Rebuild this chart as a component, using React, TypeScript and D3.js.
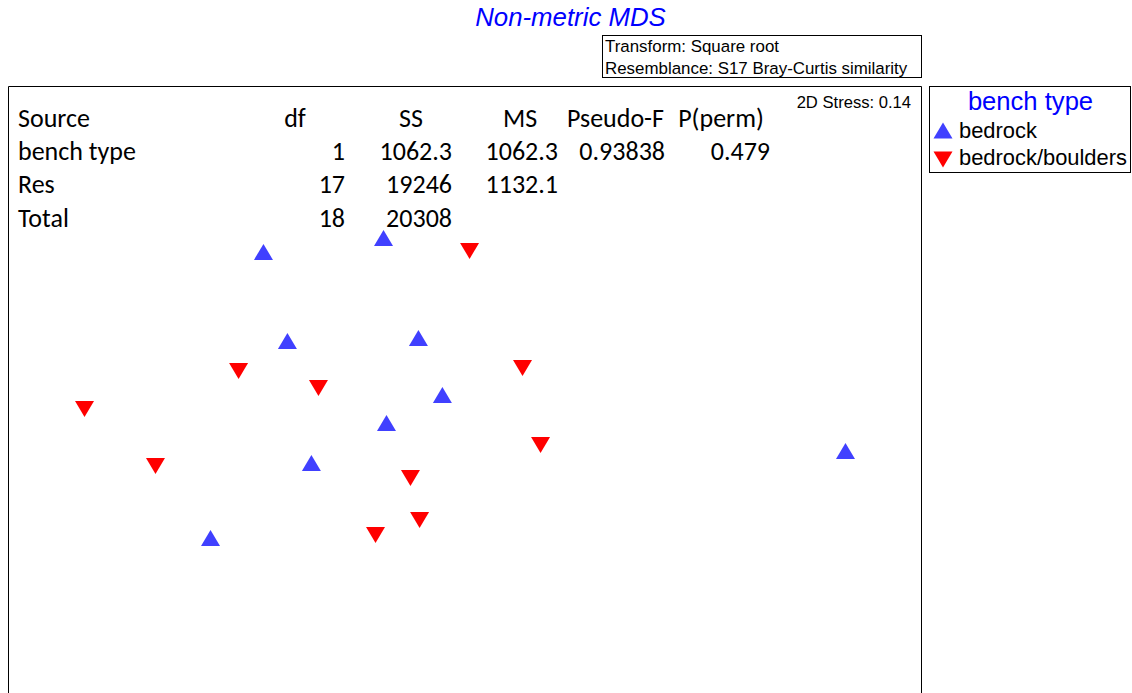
import React from "react";
import * as d3 from "d3";

const W = 1132;
const H = 693;

// nMDS coordinates (arbitrary units)
const bedrockX = [-0.883, -0.357, -0.778, -0.204, -0.099, -0.344, -0.673, -1.115, 1.667];
const bedrockY = [0.68, 0.749, 0.24, 0.255, -0.027, -0.166, -0.363, -0.734, -0.304];
const bouldersX = [0.02, -0.992, -0.642, 0.252, -1.667, -1.356, 0.331, -0.239, -0.199, -0.392];
const bouldersY = [0.685, 0.091, 0.007, 0.106, -0.096, -0.378, -0.274, -0.437, -0.645, -0.719];

const groups = ["bedrock", "bedrock/boulders"];
const groupColors = ["#4040ff", "#ff0000"];

const tableHeader = ["Source", "df", "SS", "MS", "Pseudo-F", "P(perm)"];
const tableSources = ["bench type", "Res", "Total"];
const tableDf = ["1", "17", "18"];
const tableSS = ["1062.3", "19246", "20308"];
const tableMS = ["1062.3", "1132.1", ""];
const tablePseudoF = ["0.93838", "", ""];
const tablePperm = ["0.479", "", ""];

const stressText = "2D Stress: 0.14";
const infoLines = ["Transform: Square root", "Resemblance: S17 Bray-Curtis similarity"];

const frame = { x0: 8.5, y0: 86.5, x1: 921.5 };

const xScale = d3.scaleLinear().domain([-2, 2]).range([frame.x0, frame.x1]);
const yScale = d3.scaleLinear().domain([1.5, -1.5]).range([86, 693]);

function tri(cx: number, cy: number, up: boolean, w = 19, h = 16) {
  const p = d3.path();
  if (up) {
    p.moveTo(cx, cy - h / 2);
    p.lineTo(cx + w / 2, cy + h / 2);
    p.lineTo(cx - w / 2, cy + h / 2);
  } else {
    p.moveTo(cx, cy + h / 2);
    p.lineTo(cx + w / 2, cy - h / 2);
    p.lineTo(cx - w / 2, cy - h / 2);
  }
  p.closePath();
  return p.toString();
}

export default function App() {
  const arial = "Arial, 'Liberation Sans', sans-serif";
  const calibri = "Carlito, Calibri, Lato, sans-serif";
  const rowY = [126.5, 159.5, 193, 226.5];
  const fs = 26;
  const bedrock = bedrockX.map((x, i) => ({ x, y: bedrockY[i] }));
  const boulders = bouldersX.map((x, i) => ({ x, y: bouldersY[i] }));
  return (
    <svg
      width={W}
      height={H}
      style={{ position: "fixed", left: 0, top: 0, background: "#fff" }}
    >
      <rect x={0} y={0} width={W} height={H} fill="#fff" />
      <text x={570.5} y={26} textAnchor="middle" fontFamily={arial} fontStyle="italic" fontSize={25.8} fill="#0000ff">
        Non-metric MDS
      </text>
      <rect x={602.5} y={35.5} width={319} height={42} fill="#fff" stroke="#000" strokeWidth={1} />
      {infoLines.map((t, i) => (
        <text key={t} x={605} y={51.5 + i * 22} fontFamily={arial} fontSize={16.9} fill="#000">
          {t}
        </text>
      ))}
      {/* main frame */}
      <path
        d={`M${frame.x0},${H + 2} L${frame.x0},${frame.y0} L${frame.x1},${frame.y0} L${frame.x1},${H + 2}`}
        fill="none"
        stroke="#000"
        strokeWidth={1}
      />
      <text x={911} y={108} textAnchor="end" fontFamily={arial} fontSize={16.6} fill="#000">
        {stressText}
      </text>
      {/* table */}
      <g fontFamily={calibri} fontSize={fs} fill="#000">
        <text x={18} y={rowY[0]}>{tableHeader[0]}</text>
        <text x={295} y={rowY[0]} textAnchor="middle">{tableHeader[1]}</text>
        <text x={411} y={rowY[0]} textAnchor="middle">{tableHeader[2]}</text>
        <text x={520} y={rowY[0]} textAnchor="middle">{tableHeader[3]}</text>
        <text x={615.5} y={rowY[0]} textAnchor="middle">{tableHeader[4]}</text>
        <text x={721} y={rowY[0]} textAnchor="middle">{tableHeader[5]}</text>
        {tableSources.map((s, i) => (
          <g key={s}>
            <text x={18} y={rowY[i + 1]}>{s}</text>
            <text x={345} y={rowY[i + 1]} textAnchor="end">{tableDf[i]}</text>
            <text x={452} y={rowY[i + 1]} textAnchor="end">{tableSS[i]}</text>
            <text x={558} y={rowY[i + 1]} textAnchor="end">{tableMS[i]}</text>
            <text x={665} y={rowY[i + 1]} textAnchor="end">{tablePseudoF[i]}</text>
            <text x={770} y={rowY[i + 1]} textAnchor="end">{tablePperm[i]}</text>
          </g>
        ))}
      </g>
      {/* points */}
      {bedrock.map((d, i) => (
        <path key={"a" + i} d={tri(xScale(d.x), yScale(d.y), true)} fill={groupColors[0]} />
      ))}
      {boulders.map((d, i) => (
        <path key={"b" + i} d={tri(xScale(d.x), yScale(d.y), false)} fill={groupColors[1]} />
      ))}
      {/* legend */}
      <rect x={929.5} y={86.5} width={201} height={86} fill="#fff" stroke="#000" strokeWidth={1} />
      <text x={1030.5} y={110} textAnchor="middle" fontFamily={arial} fontSize={25.6} fill="#0000ff">
        bench type
      </text>
      {groups.map((g, i) => (
        <g key={g}>
          <path d={tri(943, 130.5 + i * 29, i === 0)} fill={groupColors[i]} />
          <text x={959} y={137.5 + i * 27.5} fontFamily={arial} fontSize={21.9} fill="#000">
            {g}
          </text>
        </g>
      ))}
    </svg>
  );
}
